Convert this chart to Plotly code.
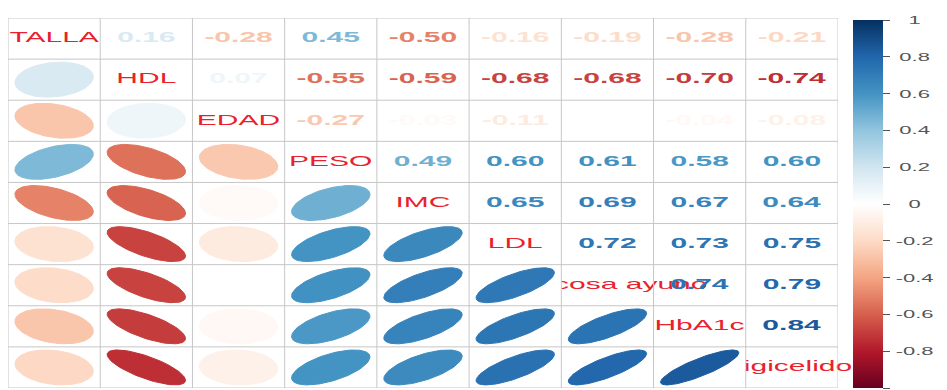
import numpy as np
import plotly.graph_objects as go

# Variable names (diagonal labels)
labels = ["TALLA", "HDL", "EDAD", "PESO", "IMC", "LDL", "Glucosa ayuno", "HbA1c", "Trigicelidos"]

# Lower triangle of the correlation matrix, one list per row
row_talla = []
row_hdl = [0.16]
row_edad = [-0.28, 0.07]
row_peso = [0.45, -0.55, -0.27]
row_imc = [-0.50, -0.59, -0.03, 0.49]
row_ldl = [-0.16, -0.68, -0.11, 0.60, 0.65]
row_glucosa = [-0.19, -0.68, 0.00, 0.61, 0.69, 0.72]
row_hba1c = [-0.28, -0.70, -0.04, 0.58, 0.67, 0.73, 0.74]
row_trig = [-0.21, -0.74, -0.08, 0.60, 0.64, 0.75, 0.79, 0.84]
lower_rows = [row_talla, row_hdl, row_edad, row_peso, row_imc,
              row_ldl, row_glucosa, row_hba1c, row_trig]

# Colour legend ticks
cb_tickvals = [-1, -0.8, -0.6, -0.4, -0.2, 0, 0.2, 0.4, 0.6, 0.8, 1]
cb_ticktext = ["-1", "-0.8", "-0.6", "-0.4", "-0.2", "0", "0.2", "0.4", "0.6", "0.8", "1"]

# Diverging red-white-blue palette
rdbu = ["#67001F", "#B2182B", "#D6604D", "#F4A582", "#FDDBC7", "#FFFFFF",
        "#D1E5F0", "#92C5DE", "#4393C3", "#2166AC", "#053061"]
stops = np.linspace(-1, 1, len(rdbu))
rgb = np.array([[int(c[i:i + 2], 16) for i in (1, 3, 5)] for c in rdbu], dtype=float)


def corr_color(r):
    vals = [np.interp(r, stops, rgb[:, k]) for k in range(3)]
    return "rgb(%d,%d,%d)" % tuple(int(round(v)) for v in vals)


n = len(labels)
corr = np.eye(n)
for i, row in enumerate(lower_rows):
    for j, v in enumerate(row):
        corr[i, j] = v
        corr[j, i] = v

LABEL_RED = "#E8222C"
FONT = "Liberation Sans, Arial, sans-serif"

fig = go.Figure()

# Diagonal variable names
fig.add_trace(go.Scatter(
    x=[i + 1 for i in range(n)], y=[i + 1 for i in range(n)],
    mode="text", text=labels, textposition="middle center",
    textfont=dict(family=FONT, size=15, color=LABEL_RED),
    cliponaxis=False, hoverinfo="skip", showlegend=False))

# White background of the lower cells (hides label overflow to the left)
bx, by = [], []
for i in range(n):
    for j in range(i):
        cx, cy = j + 1, i + 1
        bx += [cx - 0.5, cx + 0.5, cx + 0.5, cx - 0.5, cx - 0.5, None]
        by += [cy - 0.5, cy - 0.5, cy + 0.5, cy + 0.5, cy - 0.5, None]
fig.add_trace(go.Scatter(x=bx, y=by, mode="lines", fill="toself",
                         fillcolor="white", line=dict(width=0),
                         hoverinfo="skip", showlegend=False))

# Ellipses in the lower triangle
k = np.linspace(0, 2 * np.pi, 99)
for i in range(n):
    for j in range(i):
        r = corr[i, j]
        d = np.arccos(r)
        ex = 0.85 * np.cos(k + d / 2) / 2
        ey = 0.85 * np.cos(k - d / 2) / 2
        col = corr_color(r)
        fig.add_trace(go.Scatter(
            x=(j + 1) + ex, y=(i + 1) - ey, mode="lines", fill="toself",
            fillcolor=col, line=dict(color=col, width=1),
            hoverinfo="skip", showlegend=False))

# Coefficients in the upper triangle
nx, ny, nt, nc = [], [], [], []
for i in range(n):
    for j in range(i + 1, n):
        r = corr[i, j]
        nx.append(j + 1)
        ny.append(i + 1)
        nt.append("%.2f" % r)
        nc.append(corr_color(r))
fig.add_trace(go.Scatter(
    x=nx, y=ny, mode="text", text=nt, textposition="middle center",
    textfont=dict(family=FONT, size=15, color=nc, weight="bold"),
    cliponaxis=False, hoverinfo="skip", showlegend=False))

# Colour legend
lx, ly, lc = [], [], []
for i in range(n):
    for j in range(i):
        lx.append(j + 1)
        ly.append(i + 1)
        lc.append(corr[i, j])
fig.add_trace(go.Scatter(
    x=lx, y=ly, mode="markers", hoverinfo="skip", showlegend=False,
    marker=dict(size=1, opacity=0, color=lc, cmin=-1, cmax=1,
                colorscale=[[float((s + 1) / 2), c] for s, c in zip(stops, rdbu)],
                showscale=True,
                colorbar=dict(
                    x=1.018, xanchor="left", xpad=0, ypad=0,
                    y=0.497, yanchor="middle", len=0.995, lenmode="fraction",
                    thickness=30, thicknessmode="pixels", outlinewidth=0,
                    tickmode="array", tickvals=cb_tickvals, ticktext=cb_ticktext,
                    ticks="outside", ticklen=7, tickwidth=1, tickcolor="#555555",
                    tickfont=dict(family=FONT, size=11, color="#555555")))))

# Grid lines
GRID = "#c6c6c6"
shapes = []
for t in range(n + 1):
    p = t + 0.5
    shapes.append(dict(type="line", xref="x", yref="y", x0=p, x1=p, y0=0.5, y1=n + 0.5,
                       line=dict(color=GRID, width=1), layer="above"))
    shapes.append(dict(type="line", xref="x", yref="y", x0=0.5, x1=n + 0.5, y0=p, y1=p,
                       line=dict(color=GRID, width=1), layer="above"))

fig.update_layout(
    width=947, height=390,
    margin=dict(l=8, r=109, t=18, b=2),
    paper_bgcolor="white", plot_bgcolor="white",
    showlegend=False, shapes=shapes,
    xaxis=dict(range=[0.5, n + 0.5], visible=False, fixedrange=True),
    yaxis=dict(range=[n + 0.5, 0.5], visible=False, fixedrange=True),
)

# The cells are much wider than tall, so the text is widened horizontally to suit them;
# the legend labels are also centred in a column a little right of the ticks
stretch_js = """
var gd = document.querySelector('.js-plotly-plot');
var S = 2.0;
gd.querySelectorAll('.textpoint text').forEach(function (t) {
  var b = t.getBBox();
  var cx = b.x + b.width / 2;
  var tr = t.getAttribute('transform') || '';
  t.setAttribute('transform', tr + ' translate(' + cx + ',0) scale(' + S + ',1) translate(' + (-cx) + ',0)');
});
var ticks = Array.prototype.filter.call(gd.querySelectorAll('.colorbar text'),
  function (t) { return t.textContent.trim() !== ''; });
var maxW = 0;
ticks.forEach(function (t) { maxW = Math.max(maxW, t.getBBox().width); });
ticks.forEach(function (t) {
  var b = t.getBBox();
  var cx = b.x + b.width / 2;
  var target = b.x + 4 + maxW * S / 2;
  var tr = t.getAttribute('transform') || '';
  t.setAttribute('transform', tr + ' translate(' + target + ',0) scale(' + S + ',1) translate(' + (-cx) + ',0)');
});
"""

fig.write_html("out.html", post_script=stretch_js)
